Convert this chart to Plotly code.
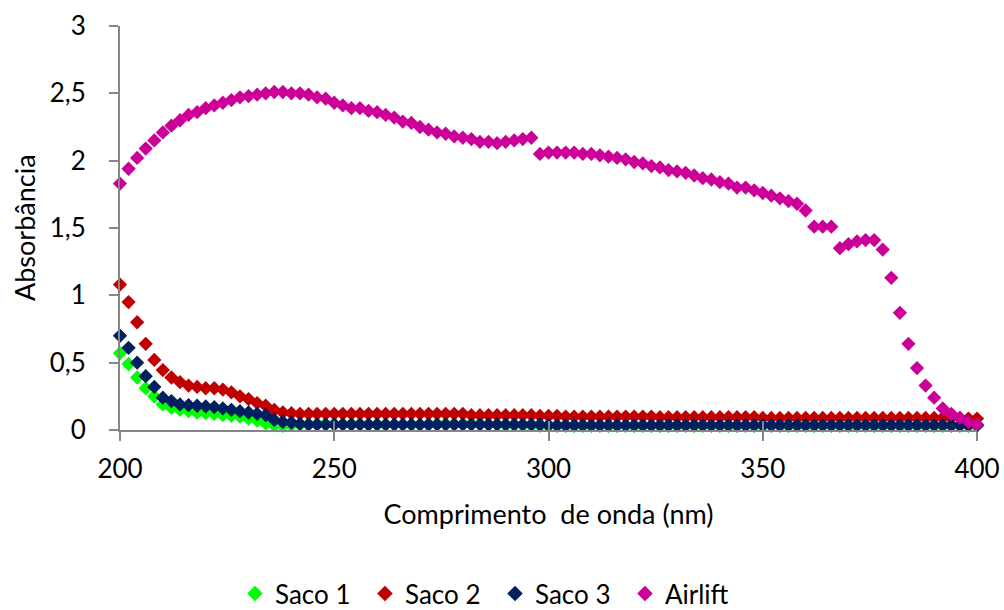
import plotly.graph_objects as go

wavelength = list(range(200, 401, 2))

saco1 = [0.57, 0.49, 0.39, 0.31, 0.25, 0.19, 0.165, 0.15, 0.14, 0.13,
         0.125, 0.12, 0.11, 0.105, 0.10, 0.085, 0.07, 0.05, 0.035, 0.03,
         0.035, 0.04, 0.045, 0.045, 0.045, 0.045, 0.045, 0.045, 0.045, 0.04,
         0.04, 0.04, 0.04, 0.04, 0.04, 0.04, 0.045, 0.045, 0.045, 0.045,
         0.045, 0.045, 0.045, 0.04, 0.04, 0.035, 0.035, 0.035, 0.035, 0.03,
         0.03, 0.03, 0.03, 0.03, 0.03, 0.03, 0.03, 0.03, 0.03, 0.03,
         0.03, 0.03, 0.03, 0.03, 0.03, 0.03, 0.03, 0.03, 0.03, 0.03,
         0.03, 0.03, 0.03, 0.03, 0.03, 0.03, 0.03, 0.03, 0.03, 0.03,
         0.03, 0.03, 0.03, 0.03, 0.03, 0.03, 0.03, 0.03, 0.03, 0.03,
         0.03, 0.03, 0.03, 0.03, 0.03, 0.03, 0.03, 0.03, 0.03, 0.03,
         0.03]

saco2 = [1.08, 0.95, 0.80, 0.64, 0.52, 0.445, 0.39, 0.355, 0.33, 0.32,
         0.31, 0.31, 0.30, 0.28, 0.25, 0.23, 0.20, 0.18, 0.15, 0.13,
         0.125, 0.12, 0.12, 0.12, 0.12, 0.12, 0.12, 0.12, 0.12, 0.12,
         0.12, 0.12, 0.12, 0.12, 0.12, 0.12, 0.12, 0.12, 0.12, 0.12,
         0.12, 0.11, 0.11, 0.11, 0.11, 0.11, 0.11, 0.11, 0.11, 0.105,
         0.105, 0.105, 0.10, 0.10, 0.10, 0.10, 0.10, 0.10, 0.10, 0.10,
         0.10, 0.10, 0.10, 0.095, 0.095, 0.095, 0.095, 0.095, 0.095, 0.095,
         0.095, 0.095, 0.095, 0.095, 0.095, 0.09, 0.09, 0.09, 0.09, 0.09,
         0.09, 0.09, 0.09, 0.09, 0.09, 0.09, 0.09, 0.09, 0.09, 0.09,
         0.09, 0.09, 0.09, 0.09, 0.09, 0.09, 0.09, 0.09, 0.09, 0.085,
         0.085]

saco3 = [0.70, 0.61, 0.50, 0.40, 0.32, 0.24, 0.215, 0.19, 0.185, 0.18,
         0.175, 0.17, 0.16, 0.15, 0.14, 0.13, 0.12, 0.11, 0.075, 0.06,
         0.055, 0.045, 0.04, 0.04, 0.04, 0.04, 0.04, 0.04, 0.04, 0.04,
         0.04, 0.04, 0.04, 0.04, 0.04, 0.04, 0.04, 0.04, 0.04, 0.04,
         0.04, 0.04, 0.04, 0.04, 0.04, 0.04, 0.04, 0.04, 0.04, 0.04,
         0.035, 0.035, 0.035, 0.035, 0.035, 0.035, 0.035, 0.035, 0.035, 0.035,
         0.035, 0.035, 0.035, 0.035, 0.035, 0.035, 0.035, 0.035, 0.035, 0.035,
         0.035, 0.035, 0.035, 0.035, 0.035, 0.035, 0.035, 0.035, 0.035, 0.035,
         0.035, 0.035, 0.035, 0.035, 0.035, 0.035, 0.035, 0.035, 0.035, 0.035,
         0.035, 0.035, 0.035, 0.035, 0.035, 0.035, 0.035, 0.035, 0.035, 0.035,
         0.035]

airlift = [1.83, 1.94, 2.02, 2.09, 2.15, 2.21, 2.26, 2.30, 2.34, 2.36,
           2.39, 2.41, 2.43, 2.45, 2.47, 2.48, 2.49, 2.50, 2.51, 2.51,
           2.50, 2.50, 2.49, 2.47, 2.46, 2.43, 2.41, 2.39, 2.39, 2.37,
           2.36, 2.34, 2.32, 2.29, 2.28, 2.25, 2.23, 2.21, 2.20, 2.18,
           2.17, 2.16, 2.14, 2.14, 2.13, 2.14, 2.15, 2.16, 2.17, 2.05,
           2.06, 2.06, 2.06, 2.06, 2.05, 2.05, 2.04, 2.03, 2.02, 2.01,
           1.99, 1.98, 1.96, 1.95, 1.93, 1.92, 1.91, 1.89, 1.87, 1.86,
           1.84, 1.83, 1.80, 1.80, 1.78, 1.76, 1.74, 1.72, 1.70, 1.68,
           1.63, 1.51, 1.51, 1.51, 1.35, 1.38, 1.40, 1.41, 1.41, 1.34,
           1.13, 0.87, 0.64, 0.46, 0.33, 0.24, 0.16, 0.12, 0.09, 0.06,
           0.04]

series_names = ["Saco 1", "Saco 2", "Saco 3", "Airlift"]
series_values = [saco1, saco2, saco3, airlift]
series_colors = ["#00FF00", "#C00000", "#002060", "#CC0099"]

x_ticks = [200, 250, 300, 350, 400]
y_ticks = [0, 0.5, 1, 1.5, 2, 2.5, 3]
x_title = "Comprimento  de onda (nm)"
y_title = "Absorbância"

FONT = "Lato, 'Open Sans', sans-serif"
AXIS_COLOR = "#868686"

fig = go.Figure()
for name, vals, col in zip(series_names, series_values, series_colors):
    fig.add_trace(go.Scatter(
        x=wavelength, y=vals, name=name, mode="markers",
        marker=dict(symbol="diamond", size=11, color=col, line=dict(width=0)),
        cliponaxis=False,
    ))

# invisible trace on overlaying axis to draw inner half of cross ticks on x axis
fig.add_trace(go.Scatter(x=[200, 400], y=[0, 0], xaxis="x2", mode="markers",
                         marker=dict(opacity=0), showlegend=False, hoverinfo="skip"))

fig.update_layout(
    width=1004, height=610,
    margin=dict(l=120, r=27, t=26, b=180, autoexpand=False),
    paper_bgcolor="white", plot_bgcolor="white",
    separators=", ",
    font=dict(family=FONT, size=26, color="#000000"),
    showlegend=True,
    legend=dict(
        orientation="h", xref="container", yref="paper",
        x=0.493, xanchor="center", y=-0.405, yanchor="middle",
        font=dict(size=26), itemsizing="constant",
        traceorder="normal", entrywidth=85, entrywidthmode="pixels",
    ),
    xaxis=dict(
        range=[200, 400], tickvals=x_ticks, showgrid=False, zeroline=False,
        showline=True, linecolor=AXIS_COLOR, linewidth=2,
        ticks="outside", ticklen=9, tickwidth=2, tickcolor=AXIS_COLOR,
        tickfont=dict(size=26), ticklabelstandoff=6,
        title=dict(text=x_title, font=dict(size=27), standoff=22),
    ),
    xaxis2=dict(
        range=[200, 400], tickvals=x_ticks, overlaying="x", anchor="y",
        showgrid=False, zeroline=False, showline=False, showticklabels=False,
        ticks="inside", ticklen=9, tickwidth=2, tickcolor=AXIS_COLOR,
    ),
    yaxis=dict(
        range=[0, 3], tickvals=y_ticks, showgrid=False, zeroline=False,
        showline=True, linecolor=AXIS_COLOR, linewidth=2,
        ticks="outside", ticklen=9, tickwidth=2, tickcolor=AXIS_COLOR,
        tickfont=dict(size=26), ticklabelstandoff=18,
    ),
    annotations=[dict(
        text=y_title, textangle=-90, showarrow=False,
        xref="paper", yref="paper", x=-0.112, y=0.5,
        xanchor="center", yanchor="middle",
        font=dict(size=27, family=FONT, color="#000000"),
    )],
)

fig.write_html("out.html")
